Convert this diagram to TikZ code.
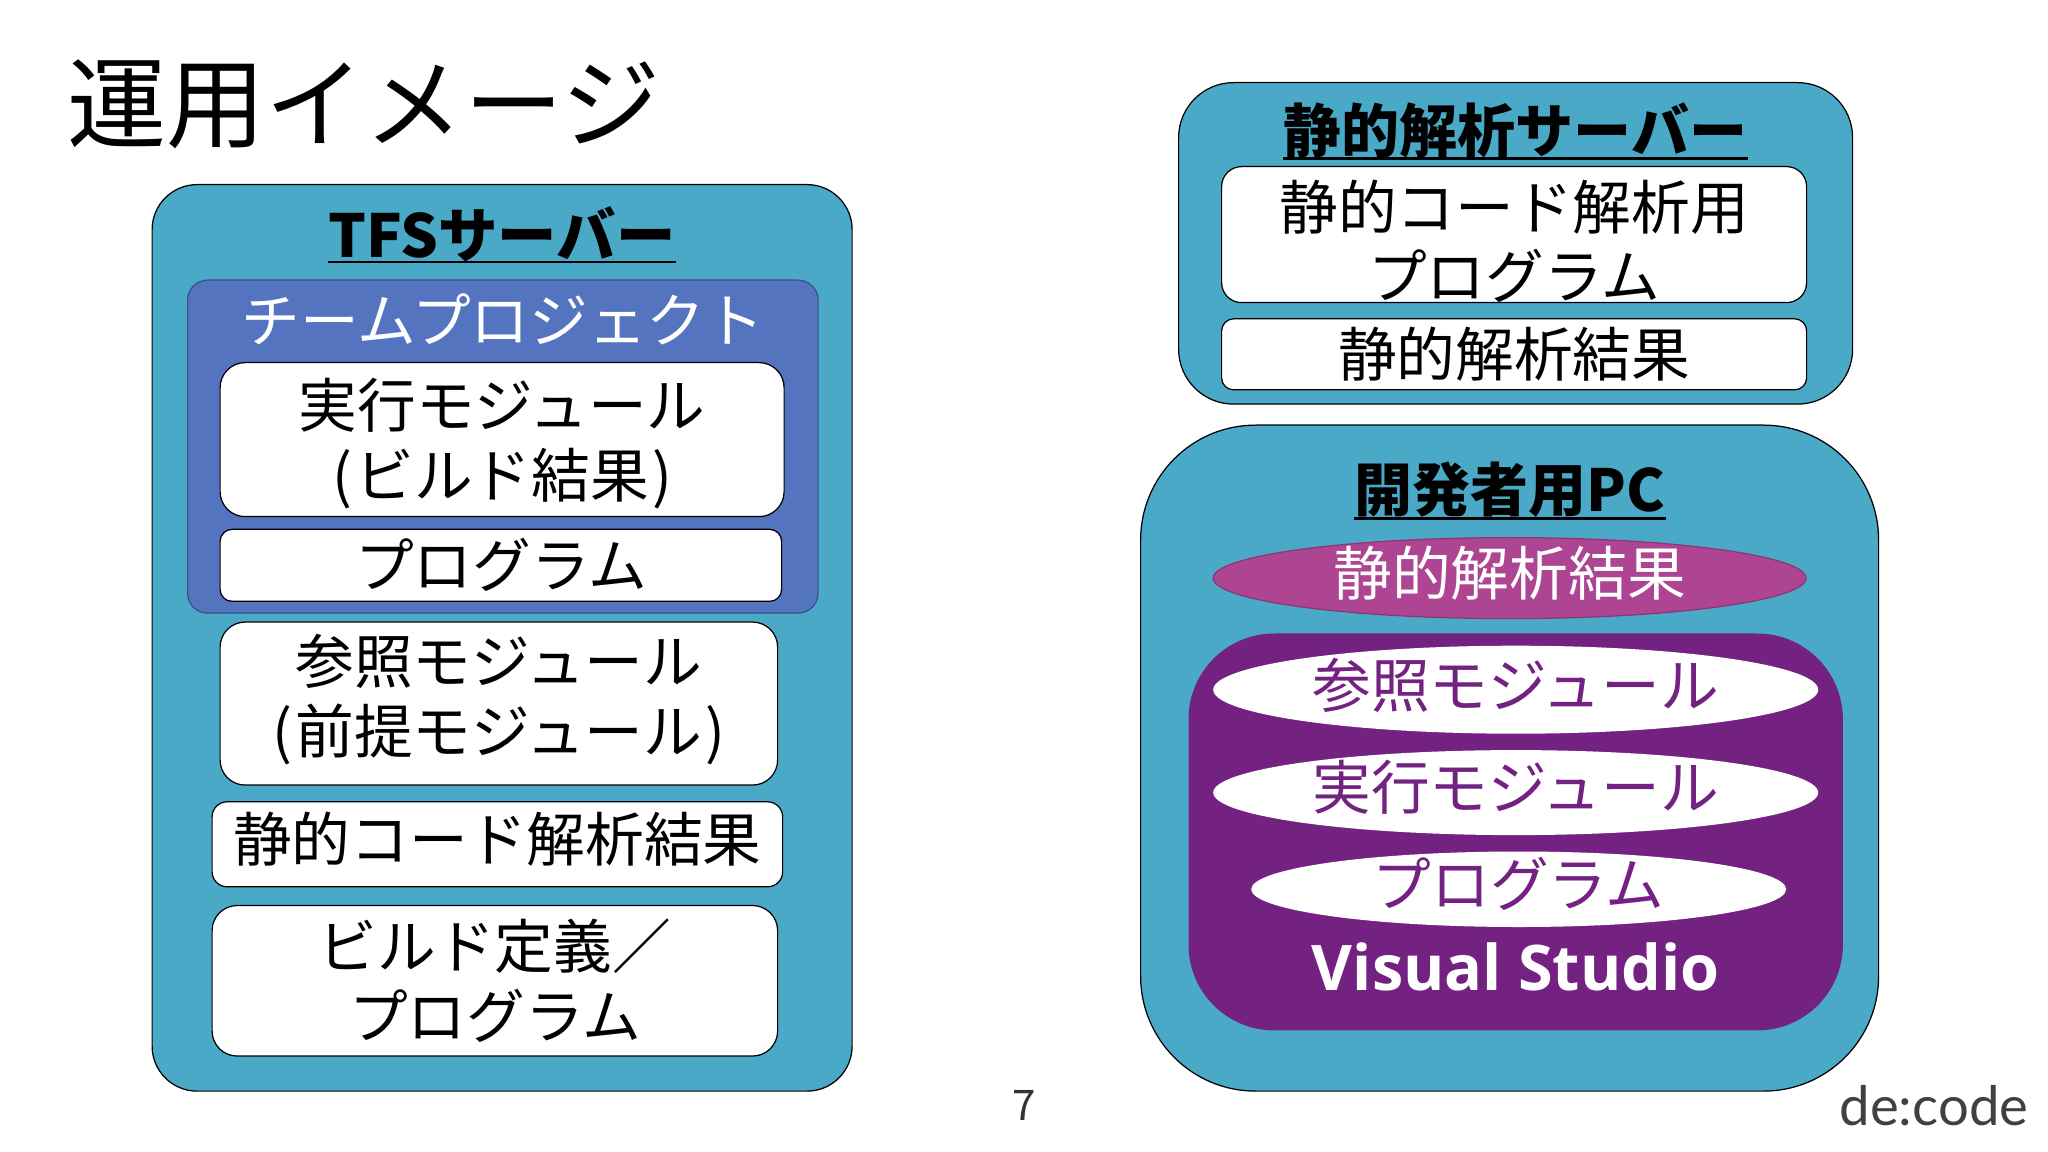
\documentclass[tikz,border=0pt]{standalone}
\usepackage{fontspec}
\setmainfont{Noto Sans CJK JP}
\newfontfamily\decode{Lato}
\newfontfamily\latinbold{Open Sans}
\usepackage{tikz}
\usetikzlibrary{positioning,shapes.geometric}
\definecolor{server}{HTML}{4BA9C8}
\definecolor{team}{HTML}{5474C0}
\definecolor{studio}{HTML}{732282}
\definecolor{result}{HTML}{AE4592}
\newcommand{\body}{\fontsize{16.7}{19.7}\selectfont}
\newcommand{\pad}[2]{\rule[-#2]{0pt}{\dimexpr#1+#2\relax}}

\begin{document}
\begin{tikzpicture}[
        outer/.style = {draw=black, line width=.35pt, fill=server, anchor=north west, inner sep=0pt},
        box/.style = {draw=black, line width=.35pt, fill=white, anchor=north west, inner sep=0pt, align=center, text=black, font=\body},
        ring/.style = {ellipse, fill=white, inner sep=0pt},
        word/.style = {inner sep=0pt, align=center, font=\body},
        head/.style = {inner sep=0pt, font=\fontsize{16.5}{19.7}\selectfont\bfseries},
    ]
                        \useasboundingbox (0,0) rectangle (20.48,-11.52);
                        \node[inner sep=0pt, font=\fontsize{28.2}{30}\selectfont](title) at (3.64,-1.045){運用イメージ};

                        \node[outer, minimum width=7cm, minimum height=9.065cm, rounded corners=.45cm](tfs) at (1.515,-1.84){};
                        \node[head, font=\fontsize{16.9}{19.7}\selectfont\bfseries](tfshead)[below=.215cm of tfs.north]{TFSサーバー};
                        \node[draw=team!70!black, line width=.35pt, fill=team, anchor=north west, inner sep=0pt, minimum width=6.305cm, minimum height=3.33cm, rounded corners=.2cm](proj)[below right=.955cm and .355cm of tfs.north west]{};
                        \node[word, text=white](projhead)[below=.14cm of proj.north]{チームプロジェクト};
                        \node[box, minimum width=5.64cm, minimum height=1.54cm, rounded corners=.25cm](exec)[below right=.825cm and .325cm of proj.north west]{\pad{16.3pt}{0pt}実行モジュール\\(\kern1pt ビルド結果\kern1pt)};
                        \node[box, minimum width=5.615cm, minimum height=.72cm, rounded corners=.12cm](prog)[below right=.115cm and 0cm of exec.south west]{プログラム};
                        \node[box, minimum width=5.575cm, minimum height=1.63cm, rounded corners=.25cm](refr)[below right=.195cm and 0cm of prog.south west]{参照モジュール\\(\kern1pt 前提モジュール\kern1pt)\pad{0pt}{5.5pt}};
                        \node[box, minimum width=5.705cm, minimum height=.85cm, rounded corners=.15cm](stat)[below right=.155cm and -.08cm of refr.south west]{静的コード解析結果\pad{0pt}{4.4pt}};
                        \node[box, minimum width=5.655cm, minimum height=1.505cm, rounded corners=.25cm](build)[below right=.175cm and 0cm of stat.south west]{ビルド定義／\\プログラム};

                        \node[outer, minimum width=6.74cm, minimum height=3.215cm, rounded corners=.55cm](ana) at (11.78,-.82){};
                        \node[head](anahead)[below=.2cm of ana.north]{静的解析サーバー};
                        \node[box, minimum width=5.85cm, minimum height=1.36cm, rounded corners=.2cm](tool)[below right=.84cm and .43cm of ana.north west]{};
                        \node[word, text=black, yshift=-.065cm](tooltext) at (tool){静的コード解析用\\プログラム};
                        \node[box, minimum width=5.85cm, minimum height=.71cm, rounded corners=.12cm](out)[below right=.15cm and 0cm of tool.south west]{静的解析結果};

                        \node[outer, minimum width=7.38cm, minimum height=6.66cm, rounded corners=1.15cm](pc) at (11.4,-4.245){};
                        \node[head](pchead)[below=.37cm of pc.north]{開発者用PC};
                        \node[ring, fill=result, draw=result!80!black, line width=.35pt, minimum width=5.93cm, minimum height=.81cm](res)[below=1.125cm of pc.north]{};
                        \node[word, text=white, yshift=.05cm](restext) at (res){静的解析結果};
                        \node[draw=studio, fill=studio, anchor=north west, inner sep=0pt, minimum width=6.53cm, minimum height=3.955cm, rounded corners=.85cm](vs)[below right=2.09cm and .485cm of pc.north west]{};
                        \node[ring, minimum width=6.05cm, minimum height=.88cm](vsref)[below=.115cm of vs.north]{};
                        \node[word, text=studio, yshift=.04cm](vsreftext) at (vsref){参照モジュール};
                        \node[ring, minimum width=6.05cm, minimum height=.85cm](vsexec)[below=.15cm of vsref]{};
                        \node[word, text=studio, yshift=.05cm](vsexectext) at (vsexec){実行モジュール};
                        \node[ring, minimum width=5.35cm, minimum height=.755cm](vsprog)[below=.15cm of vsexec, xshift=.03cm]{};
                        \node[word, text=studio, yshift=.05cm](vsprogtext) at (vsprog){プログラム};
                        \node[inner sep=0pt, text=white, font=\latinbold\bfseries\fontsize{17.9}{19.7}\selectfont](vsname)[below=.14cm of vsprog, xshift=-.03cm]{Visual Studio};

                        \draw[line width=.7pt] (tfshead.south west) -- (tfshead.south east);
                        \draw[line width=.7pt] (anahead.south west) -- (anahead.south east);
                        \draw[line width=.7pt] (pchead.south west) -- (pchead.south east);

                        \node[inner sep=0pt, font=\fontsize{12}{14}\selectfont, text=black!80](page) at (10.24,-11.05){7};
                        \node[inner sep=0pt, font=\decode\fontsize{15.5}{18}\selectfont, text=black!75](logo) at (19.34,-11.06){de:code};
                    \end{tikzpicture}
\end{document}
